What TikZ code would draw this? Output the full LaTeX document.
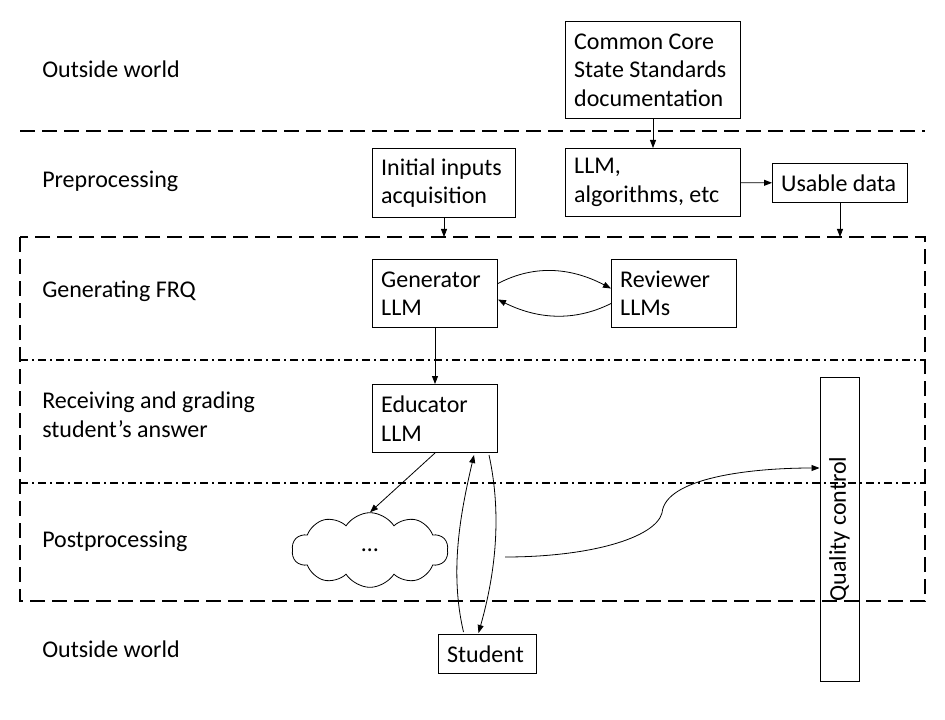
\documentclass[tikz,border=0pt]{standalone}
\usepackage{fontspec}
\setmainfont{Carlito}
\usetikzlibrary{arrows.meta,shapes.symbols,calc}

\begin{document}
\begin{tikzpicture}[x=0.75pt, y=-0.75pt,
        font=\fontsize{18pt}{21.3pt}\selectfont,
        box/.style 2 args={draw, line width=0.75pt, anchor=north west, align=flush left,
            inner xsep=6.5pt, inner ysep=0pt, text width=#1, minimum height=#2},
        stage/.style={anchor=base west, align=left, inner sep=0pt},
        arrow/.style={-{Triangle[length=6pt,width=4.5pt]}, line width=0.6pt},
        border/.style={line width=1.5pt, dash pattern=on 11.5pt off 5pt},
        split/.style={line width=1.5pt, dash pattern=on 6pt off 3pt on 1.5pt off 3pt}
    ]

        \useasboundingbox[fill=white] (0,0) rectangle (945,720);

        % Stage names on the left
        \node[stage] (outtop) at (42,78) {Outside world};
        \node[stage] (pre) at (42,188) {Preprocessing};
        \node[stage] (frq) at (42,297) {Generating FRQ};
        \node[stage] (grade) at (42,437) {Receiving and grading\\student’s answer};
        \node[stage] (post) at (42,547) {Postprocessing};
        \node[stage] (outbot) at (42,657) {Outside world};

        % Separators and the dashed frame
        \coordinate (topleft) at (20,131);
        \coordinate (topright) at (925,131);
        \coordinate (boxnw) at (20,237);
        \coordinate (boxse) at (925,601);
        \draw[border] (topleft) -- (topright);
        \draw[border] (boxnw) rectangle (boxse);
        \draw[split] (20,360) -- (925,360);
        \draw[split] (20,483) -- (925,483);

        % Boxes
        \node[box={118.25pt}{72.75pt}] (ccss) at (565,21) {Common Core\\State Standards\\documentation};
        \node[box={94.25pt}{51.75pt}] (inputs) at (372,148) {Initial inputs\\acquisition};
        \node[box={118.25pt}{51pt}] (algo) at (565,148) {LLM,\\algorithms, etc};
        \node[box={88.25pt}{29.25pt}] (usable) at (772,163) {Usable data};
        \node[box={80.75pt}{51pt}] (gen) at (372,259) {Generator\\LLM};
        \node[box={80.75pt}{51pt}] (rev) at (611,259) {Reviewer\\LLMs};
        \node[box={80.75pt}{51pt}] (edu) at (372,384) {Educator\\LLM};
        \node[box={60.5pt}{29.25pt}] (student) at (438,634) {Student};
        \node[draw, line width=0.75pt, rotate=90, minimum width=228pt, minimum height=29.25pt,
            inner sep=0pt] (qc) at (839.5,529) {Quality control};
        \node[draw, cloud, cloud puffs=10, cloud puff arc=115, cloud ignores aspect, line width=0.6pt,
            minimum width=117pt, minimum height=56pt, inner sep=0pt] (cloud) at (370,550) {…};
        \coordinate (fb) at (505,557);
        \coordinate (kink) at (662,513);

        % Arrows
        \draw[arrow] (ccss) -- (algo);
        \draw[arrow] (inputs) -- (inputs |- boxnw);
        \draw[arrow] (algo) -- (usable);
        \draw[arrow] (usable) -- (usable |- boxnw);
        \draw[arrow] ($(gen.east)+(0,-10)$) .. controls +(38,-20) and +(-38,-20) .. ($(rev.west)+(0,-5)$);
        \draw[arrow] ($(rev.west)+(0,10)$) .. controls +(-38,19) and +(38,19) .. ($(gen.east)+(0,6)$);
        \draw[arrow] (gen) -- (edu);
        \draw[arrow] (edu.south) -- (cloud.north);
        \draw[arrow] ($(student.north)+(-24,-2)$) .. controls +(-14,-60) and +(-14,60) .. ($(edu.south east)+(-24,2)$);
        \draw[arrow] ($(edu.south east)+(-9,2)$) .. controls +(13,60) and +(17,-60) .. ($(student.north)+(-9,-1)$);
        \draw[arrow] (fb) .. controls +(85,0) and +(-7,25) .. (kink)
            .. controls +(3,-35) and +(-70,0) .. ($(qc.north)+(0,-61)$);

    \end{tikzpicture}
\end{document}
